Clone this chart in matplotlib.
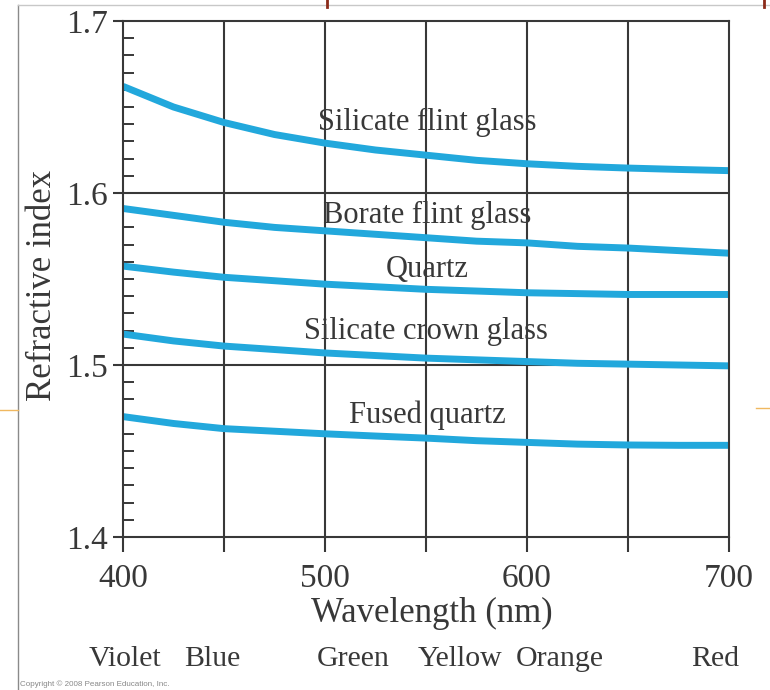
import matplotlib.pyplot as plt
from matplotlib.lines import Line2D
from matplotlib.transforms import blended_transform_factory

# wavelength samples (nm)
wavelength = [400, 425, 450, 475, 500, 525, 550, 575, 600, 625, 650, 675, 700]

# refractive index
silicate_flint = [1.662, 1.650, 1.641, 1.634, 1.629, 1.625, 1.622, 1.619, 1.617, 1.6155, 1.6145, 1.6137, 1.613]
borate_flint = [1.591, 1.587, 1.583, 1.580, 1.578, 1.576, 1.574, 1.572, 1.571, 1.569, 1.568, 1.5665, 1.565]
quartz = [1.5575, 1.554, 1.551, 1.549, 1.547, 1.5455, 1.544, 1.543, 1.542, 1.5415, 1.541, 1.541, 1.541]
silicate_crown = [1.518, 1.514, 1.511, 1.509, 1.507, 1.5055, 1.504, 1.503, 1.502, 1.501, 1.5005, 1.500, 1.4995]
fused_quartz = [1.470, 1.466, 1.463, 1.4615, 1.460, 1.4587, 1.4575, 1.456, 1.455, 1.454, 1.4535, 1.4533, 1.4533]

curve_names = ["Silicate flint glass", "Borate flint glass", "Quartz",
               "Silicate crown glass", "Fused quartz"]
curve_label_x = [550.5, 550.5, 550.5, 550, 550.5]
curve_label_y = [1.6412, 1.5868, 1.5555, 1.5195, 1.4705]

color_names = ["Violet", "Blue", "Green", "Yellow", "Orange", "Red"]
color_x = [401, 444, 514, 567, 616, 693]

x_ticks = [400, 450, 500, 550, 600, 650, 700]
x_labels = ["400", "", "500", "", "600", "", "700"]
y_ticks = [1.4, 1.5, 1.6, 1.7]

plt.rcParams['font.family'] = ['Liberation Serif', 'DejaVu Serif']
ink = "#383838"
blue = "#22a8dc"

fig = plt.figure(figsize=(7.7, 6.9), dpi=100)
ax = fig.add_axes([123 / 770, 1 - 537 / 690, (729 - 123) / 770, (537 - 21) / 690])

# grid lines
for gx in x_ticks[1:-1]:
    ax.axvline(gx, color=ink, lw=1.5, zorder=1)
for gy in [1.5, 1.6]:
    ax.axhline(gy, color=ink, lw=1.5, zorder=1)

series = [silicate_flint, borate_flint, quartz, silicate_crown, fused_quartz]
for s in series:
    ax.plot(wavelength, s, color=blue, lw=5, solid_capstyle='butt',
            solid_joinstyle='round', zorder=2)

for name, lx, ly in zip(curve_names, curve_label_x, curve_label_y):
    ax.text(lx, ly, name, ha='center', va='center', fontsize=22, color=ink,
            zorder=3)

ax.set_xlim(400, 700)
ax.set_ylim(1.4, 1.7)
ax.set_xticks(x_ticks)
ax.set_xticklabels(x_labels)
ax.set_yticks(y_ticks)
ax.set_yticklabels([f"{v:.1f}" for v in y_ticks])
ax.set_yticks([1.4 + i * 0.01 for i in range(1, 30) if i % 10], minor=True)

ax.tick_params(axis='x', direction='out', length=11, width=1.5, color=ink,
               labelsize=24, labelcolor=ink, pad=8)
ax.tick_params(axis='y', which='major', direction='out', length=7, width=1.5,
               color=ink, labelsize=24, labelcolor=ink, pad=4)
ax.tick_params(axis='y', which='minor', direction='in', length=8, width=1.4,
               color=ink)

for sp in ax.spines.values():
    sp.set_color(ink)
    sp.set_linewidth(1.5)

ax.set_xlabel("Wavelength (nm)", fontsize=25, color=ink, labelpad=2.5, x=0.51)
ax.set_ylabel("Refractive index", fontsize=25, color=ink, labelpad=5, y=0.488)

trans = blended_transform_factory(ax.transData, ax.transAxes)
for name, cx in zip(color_names, color_x):
    ax.text(cx, -0.237, name, transform=trans, ha='center', va='center',
            fontsize=21.5, color=ink)

# slide decoration around the picture
fig.add_artist(Line2D([18 / 770, 18 / 770], [0, 1 - 5 / 690],
                      transform=fig.transFigure, color="#8a8a8a", lw=1))
fig.add_artist(Line2D([18 / 770, 1], [1 - 5 / 690, 1 - 5 / 690],
                      transform=fig.transFigure, color="#c8c8c8", lw=1))
fig.add_artist(Line2D([0, 18 / 770], [1 - 410 / 690, 1 - 410 / 690],
                      transform=fig.transFigure, color="#f0b860", lw=1))
fig.add_artist(Line2D([756 / 770, 1], [1 - 408 / 690, 1 - 408 / 690],
                      transform=fig.transFigure, color="#f0b860", lw=1))
for mx in [327, 764]:
    fig.add_artist(Line2D([mx / 770, mx / 770], [1 - 7 / 690, 1],
                          transform=fig.transFigure, color="#8b2a1a", lw=2))

fig.text(20 / 770, 1 - 684 / 690, "Copyright \u00a9 2008 Pearson Education, Inc.",
         fontsize=5.8, color="#888888", family=['Liberation Sans', 'DejaVu Sans'],
         va='center')

fig.savefig("out.png", dpi=100)
